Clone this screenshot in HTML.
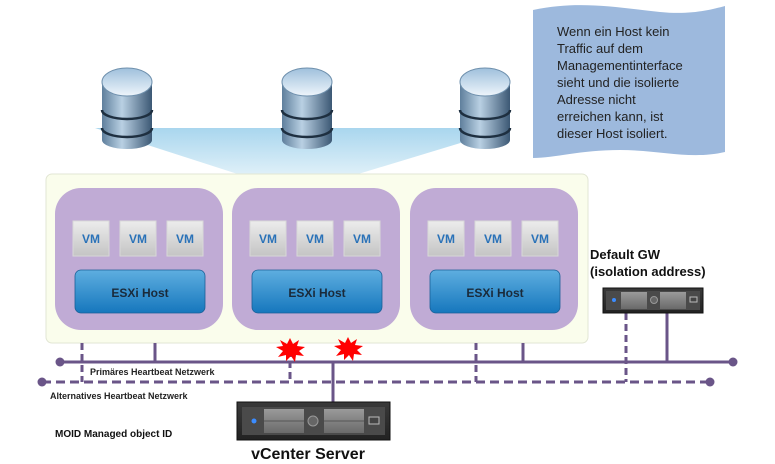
<!DOCTYPE html>
<html><head><meta charset="utf-8"><style>
body{margin:0;background:#fff;}
svg{display:block;font-family:"Liberation Sans",sans-serif;}
</style></head><body>
<svg width="775" height="464" viewBox="0 0 775 464" xmlns="http://www.w3.org/2000/svg">
<defs>
<linearGradient id="tri" x1="0" y1="0" x2="0" y2="1"><stop offset="0" stop-color="#a9d6ee"/><stop offset="1" stop-color="#e3f2f9"/></linearGradient>
<linearGradient id="vm" x1="0" y1="0" x2="0" y2="1"><stop offset="0" stop-color="#ececec"/><stop offset="1" stop-color="#c4c4c4"/></linearGradient>
<linearGradient id="esx" x1="0" y1="0" x2="0" y2="1"><stop offset="0" stop-color="#5eaee0"/><stop offset="1" stop-color="#1677bd"/></linearGradient>
<linearGradient id="dbs" x1="0" y1="0" x2="1" y2="0"><stop offset="0" stop-color="#5f7f9c"/><stop offset="0.4" stop-color="#b9d0e3"/><stop offset="1" stop-color="#3c5874"/></linearGradient>
<linearGradient id="dbt" x1="0" y1="0" x2="0" y2="1"><stop offset="0" stop-color="#9fc0dc"/><stop offset="1" stop-color="#eef5fb"/></linearGradient>
<linearGradient id="srv" x1="0" y1="0" x2="0" y2="1"><stop offset="0" stop-color="#3a3a3a"/><stop offset="1" stop-color="#222"/></linearGradient>
<linearGradient id="bay" x1="0" y1="0" x2="0" y2="1"><stop offset="0" stop-color="#9a9a9a"/><stop offset="1" stop-color="#6a6a6a"/></linearGradient>
<g id="db">
<path d="M-25,0 v58 a25,9 0 0 0 50,0 v-58 z" fill="url(#dbs)"/>
<path d="M-25,28 a25,9 0 0 0 50,0" fill="none" stroke="#1e2f40" stroke-width="2.5"/>
<path d="M-25,46 a25,9 0 0 0 50,0" fill="none" stroke="#1e2f40" stroke-width="2.5"/>
<ellipse cx="0" cy="0" rx="25" ry="14" fill="url(#dbt)" stroke="#6f90ad" stroke-width="1"/>
</g>
<g id="vmb"><rect width="36" height="35" fill="url(#vm)" stroke="#d8d8d8"/><text x="18" y="22" text-anchor="middle" font-size="12" font-weight="bold" fill="#2a72b8">VM</text></g>
<g id="host">
<rect x="0" y="0" width="168" height="142" rx="26" fill="#c0abd5"/>
<use href="#vmb" x="18" y="33"/><use href="#vmb" x="65" y="33"/><use href="#vmb" x="112" y="33"/>
<rect x="20" y="82" width="130" height="43" rx="6" fill="url(#esx)" stroke="#1a5f96" stroke-width="0.8"/>
<text x="85" y="109" text-anchor="middle" font-size="12" font-weight="bold" fill="#1a2a3a">ESXi Host</text>
</g>
<path id="star" d="M0,-12 L3,-6 L9,-10 L7,-4 L15,-3 L9,1 L14,6 L6,5 L5,12 L1,6 L-4,11 L-4,5 L-12,7 L-7,1 L-14,-3 L-7,-4 L-10,-10 L-3,-6 Z" fill="#ff0000"/>
</defs>

<path d="M95,128 L510,128 L345,178 L250,178 Z" fill="url(#tri)"/>
<use href="#db" x="127" y="82"/>
<use href="#db" x="307" y="82"/>
<use href="#db" x="485" y="82"/>

<path d="M533,10 C580,0 620,8 660,12 C690,15 710,10 725,6 L725,152 C690,160 660,150 620,150 C580,150 555,158 533,158 Z" fill="#9db9dd"/>
<g font-size="13" fill="#222">
<text x="557" y="36">Wenn ein Host kein</text>
<text x="557" y="53">Traffic auf dem</text>
<text x="557" y="70">Managementinterface</text>
<text x="557" y="87">sieht und die isolierte</text>
<text x="557" y="104">Adresse nicht</text>
<text x="557" y="121">erreichen kann, ist</text>
<text x="557" y="138">dieser Host isoliert.</text>
</g>

<rect x="46" y="174" width="542" height="169" rx="6" fill="#fafdec" stroke="#e2e6d4"/>
<use href="#host" x="55" y="188"/>
<use href="#host" x="232" y="188"/>
<use href="#host" x="410" y="188"/>

<g stroke="#6a5588" stroke-width="3" fill="none">
<line x1="60" y1="362" x2="733" y2="362"/>
<line x1="42" y1="382" x2="710" y2="382" stroke-dasharray="9,5"/>
<line x1="155" y1="343" x2="155" y2="362"/>
<line x1="82" y1="343" x2="82" y2="382" stroke-dasharray="7,4"/>
<line x1="290" y1="350" x2="290" y2="382" stroke-dasharray="7,4"/>
<line x1="333" y1="362" x2="333" y2="402"/>
<line x1="476" y1="343" x2="476" y2="382" stroke-dasharray="7,4"/>
<line x1="523" y1="343" x2="523" y2="362"/>
<line x1="626" y1="313" x2="626" y2="382" stroke-dasharray="7,4"/>
<line x1="667" y1="313" x2="667" y2="362"/>
</g>
<g fill="#6a5588">
<circle cx="60" cy="362" r="4.5"/><circle cx="733" cy="362" r="4.5"/>
<circle cx="42" cy="382" r="4.5"/><circle cx="710" cy="382" r="4.5"/>
</g>
<use href="#star" x="290" y="350"/>
<use href="#star" x="348" y="349"/>

<text x="90" y="375" font-size="9" font-weight="bold" fill="#222">Primäres Heartbeat Netzwerk</text>
<text x="50" y="399" font-size="9" font-weight="bold" fill="#222">Alternatives Heartbeat Netzwerk</text>
<text x="55" y="437" font-size="10" font-weight="bold" fill="#111">MOID Managed object ID</text>
<text x="308" y="459" text-anchor="middle" font-size="16" font-weight="bold" fill="#111">vCenter Server</text>
<text x="590" y="259" font-size="13" font-weight="bold" fill="#111">Default GW</text>
<text x="590" y="276" font-size="13" font-weight="bold" fill="#111">(isolation address)</text>

<!-- vCenter server -->
<g>
<rect x="237" y="402" width="153" height="38" fill="url(#srv)" stroke="#111"/>
<rect x="242" y="407" width="143" height="28" fill="#4a4a4a"/>
<circle cx="254" cy="421" r="2.5" fill="#3b8cff"/>
<rect x="264" y="409" width="40" height="24" fill="url(#bay)"/>
<line x1="264" y1="421" x2="304" y2="421" stroke="#555"/>
<circle cx="313" cy="421" r="5" fill="#666" stroke="#999"/>
<rect x="324" y="409" width="40" height="24" fill="url(#bay)"/>
<line x1="324" y1="421" x2="364" y2="421" stroke="#555"/>
<rect x="369" y="417" width="10" height="7" fill="#444" stroke="#bbb"/>
</g>
<!-- GW server -->
<g>
<rect x="603" y="288" width="100" height="25" fill="url(#srv)" stroke="#111"/>
<rect x="606" y="291" width="94" height="19" fill="#4a4a4a"/>
<circle cx="614" cy="300" r="2" fill="#3b8cff"/>
<rect x="621" y="292" width="26" height="17" fill="url(#bay)"/>
<circle cx="654" cy="300" r="3.5" fill="#666" stroke="#999"/>
<rect x="660" y="292" width="26" height="17" fill="url(#bay)"/>
<rect x="690" y="297" width="7" height="5" fill="#444" stroke="#bbb"/>
</g>
</svg>
</body></html>
